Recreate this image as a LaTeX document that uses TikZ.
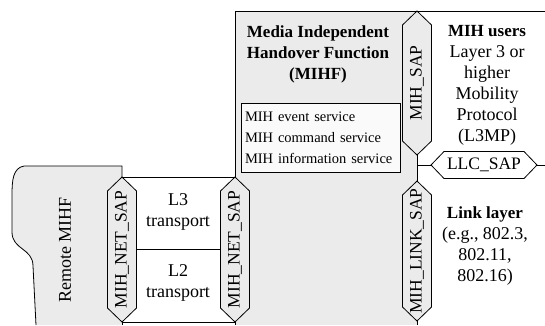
\documentclass[tikz,border=0pt]{standalone}
\usepackage{fontspec}
\setmainfont{Liberation Serif}
\usepackage{tikz}
\usepackage{xcolor}
\definecolor{mihgray}{RGB}{235,235,235}
\definecolor{svcfill}{RGB}{250,250,250}
\tikzset{
    sap-shape/.style = {draw, fill=mihgray, line join=miter},
    sap-label/.style = {font=\fontsize{17.5}{21}\selectfont, inner sep=0pt, rotate=90},
    body-text/.style = {font=\fontsize{18}{21}\selectfont, align=center, inner sep=0pt},
    title-font/.style = {font=\fontsize{17}{21}\selectfont\bfseries},
}
% vertical SAP: name, x, top, bottom, text
\newcommand\sapv[5]{%
    \coordinate (#1-top) at (#2,#3);
    \coordinate (#1-bot) at (#2,#4);
    \draw[sap-shape] (#1-top) -- (#2+14.5,#3+14) -- (#2+14.5,#4-14) -- (#1-bot) -- (#2-14.5,#4-14) -- (#2-14.5,#3+14) -- cycle;
    \node[sap-label] (#1) at (#2,{(#3+#4)/2}) {#5};
}

\begin{document}
\begin{tikzpicture}[x=1pt, y=-1pt, line width=0.8pt]
\useasboundingbox (0,0) rectangle (545,325);
% grey areas
\fill[mihgray] (235,11) rectangle (417,325);
\fill[mihgray] (122,166) -- (24,166) .. controls (13,168) and (12,180) .. (12,195) -- (12,232) .. controls (12,250) and (33,248) .. (33,266) -- (36,325) -- (122,325) -- cycle;
\draw (122,177) -- (122,166) -- (24,166) .. controls (13,168) and (12,180) .. (12,195) -- (12,232) .. controls (12,250) and (33,248) .. (33,266) -- (36,325);
\node[body-text, rotate=90] (remote) at (65,250) {Remote MIHF};

% service access points
\sapv{netl}{122}{177}{322}{MIH\_NET\_SAP}
\sapv{netr}{235}{177}{322}{MIH\_NET\_SAP}
\sapv{mihsap}{417}{11}{155}{MIH\_SAP}
\sapv{linksap}{417}{181}{321}{MIH\_LINK\_SAP}
\coordinate (llc-w) at (431,165);
\coordinate (llc-e) at (537,165);
\draw[draw, fill=white] (llc-w) -- (444,151.5) -- (524,151.5) -- (llc-e) -- (524,178.5) -- (444,178.5) -- cycle;
\node[body-text, font=\fontsize{17.5}{21}\selectfont] (llc) at (484,165) {LLC\_SAP};

% frame lines
\coordinate (mihf-nw) at (235,11);
\coordinate (top-e) at (545,11);
\coordinate (llc-end) at (545,165);
\draw (mihf-nw) -- (top-e);
\draw (mihf-nw) -- (netr-top);
\draw (netl-top) -- (netr-top);
\draw ([xshift=14.5pt]netl.center) -- ([xshift=-14.5pt]netr.center);
\draw (netl-bot) -- (netr-bot);
\draw (netl-bot) -- ++(0,3);
\draw (netr-bot) -- ++(0,3);
\draw (mihsap-bot) -- (linksap-top);
\draw (linksap-bot) -- ++(0,4);
\draw (mihsap-bot |- llc-w) -- (llc-w);
\draw (llc-e) -- (llc-end);

% transports
\node[body-text] (l3) at (178,212) {L3\\transport};
\node[body-text] (l2) at (178,283) {L2\\transport};

% MIHF
\node[title-font, align=center, inner sep=0pt] (mihf) at (318,54) {Media Independent\\Handover Function\\(MIHF)};
\node[draw, fill=svcfill, minimum width=159pt, minimum height=69pt, text width=151pt, inner xsep=4pt, align=left, font=\fontsize{14.5}{21}\selectfont] (services) at (320.5,137.5) {MIH event service\\MIH command service\\MIH information service};

% upper and lower layers
\node[body-text] (users) at (487,85) {{\fontsize{17}{21}\selectfont\bfseries MIH users}\\Layer 3 or\\higher\\Mobility\\Protocol\\(L3MP)};
\node[body-text] (link) at (485,246) {{\fontsize{17}{21}\selectfont\bfseries Link layer}\\(e.g., 802.3,\\802.11,\\802.16)};
\end{tikzpicture}
\end{document}
